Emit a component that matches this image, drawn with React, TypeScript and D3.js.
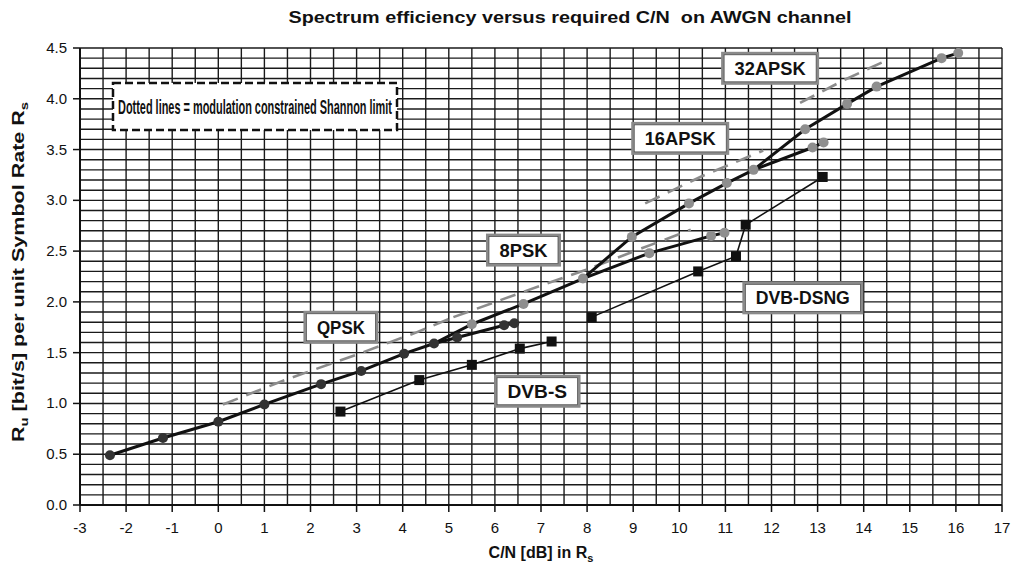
import React from "react";
import * as d3 from "d3";

// ---- data ----
const qpskX = [-2.35, -1.2, 0.0, 1.0, 2.23, 3.1, 4.03, 4.68, 5.18, 6.2, 6.42];
const qpskY = [0.49, 0.66, 0.82, 0.99, 1.19, 1.32, 1.49, 1.59, 1.65, 1.77, 1.79];

const psk8X = [5.5, 6.62, 7.91, 9.35, 10.69, 10.98];
const psk8Y = [1.78, 1.98, 2.23, 2.48, 2.65, 2.68];

const apsk16X = [8.97, 10.21, 11.03, 11.61, 12.89, 13.13];
const apsk16Y = [2.64, 2.97, 3.17, 3.3, 3.52, 3.57];

const apsk32X = [12.73, 13.64, 14.28, 15.69, 16.05];
const apsk32Y = [3.7, 3.95, 4.12, 4.4, 4.45];

const dvbsX = [2.65, 4.36, 5.5, 6.54, 7.23];
const dvbsY = [0.92, 1.23, 1.38, 1.54, 1.61];

const dsngX = [8.1, 10.41, 11.23, 11.44, 13.11];
const dsngY = [1.85, 2.3, 2.45, 2.76, 3.23];

// dashed Shannon limits
const shQpskX = [0.1, 1.5, 3.0, 4.3, 5.1];
const shQpskY = [0.99, 1.24, 1.48, 1.7, 1.85];
const sh8pskX = [5.1, 6.5, 8.0, 9.2, 10.25];
const sh8pskY = [1.85, 2.08, 2.32, 2.53, 2.71];
const sh16X = [9.26, 10.5, 11.82];
const sh16Y = [2.97, 3.24, 3.49];
const sh32X = [12.62, 13.6, 14.5];
const sh32Y = [3.96, 4.19, 4.38];

const xTicks = d3.range(-3, 18, 1);
const yTicks = d3.range(0, 4.51, 0.5);

const labels = ["QPSK", "8PSK", "16APSK", "32APSK", "DVB-S", "DVB-DSNG"];
const labelX = [2.66, 6.62, 10.02, 11.97, 6.92, 12.68];
const labelY = [1.75, 2.51, 3.61, 4.3, 1.12, 2.04];

const W = 1013;
const H = 571;

const zip = (xs: number[], ys: number[]) => xs.map((x, i) => [x, ys[i]] as [number, number]);

export default function App() {
  const x = d3.scaleLinear().domain([-3, 17]).range([80, 1002]);
  const y = d3.scaleLinear().domain([0, 4.5]).range([505, 48]);
  const line = d3
    .line<[number, number]>()
    .x((d) => x(d[0]))
    .y((d) => y(d[1]));

  const vGrid = d3.range(-3, 17.01, 0.5);
  const hGrid = d3.range(0, 4.501, 0.1);

  const qpsk = zip(qpskX, qpskY);
  const p8 = zip(psk8X, psk8Y);
  const a16 = zip(apsk16X, apsk16Y);
  const a32 = zip(apsk32X, apsk32Y);

  // lines: each modulation's curve starts at the transition point of the previous one
  const line8 = [qpsk[7], ...p8];
  const line16 = [p8[2], ...a16];
  const line32 = [a16[3], ...a32];

  const font = "'Liberation Sans',Arial,sans-serif";

  const labelBox = (t: string, i: number) => {
    const cx = x(labelX[i]);
    const cy = y(labelY[i]);
    const w = t.length * 11.5 + 26;
    const h = 30;
    const tl = t.length * 11.5 + 2;
    return (
      <g key={t}>
        <rect x={cx - w / 2} y={cy - h / 2} width={w} height={h} fill="#fff" stroke="#8a8a8a" strokeWidth={3} />
        <rect x={cx - w / 2 + 1.5} y={cy - h / 2 + 1.5} width={w - 3} height={h - 3} fill="none" stroke="#444" strokeWidth={0.7} />
        <text x={cx} y={cy + 6.5} textAnchor="middle" fontSize={18} fontWeight="bold" fontFamily={font} fill="#111" textLength={tl} lengthAdjust="spacingAndGlyphs">
          {t}
        </text>
      </g>
    );
  };

  return (
    <svg width={W} height={H} style={{ position: "absolute", left: 0, top: 0, background: "#fff" }}>
      <rect x={0} y={0} width={W} height={H} fill="#fff" />
      <text x={570} y={23} textAnchor="middle" fontSize={17} fontWeight="bold" fontFamily={font} fill="#111" textLength={563} lengthAdjust="spacingAndGlyphs">
        {"Spectrum efficiency versus required C/N\u00a0 on AWGN channel"}
      </text>
      {/* grid */}
      <g stroke="#1a1a1a" strokeWidth={1.4}>
        {vGrid.map((v) => (
          <line key={"v" + v} x1={x(v)} x2={x(v)} y1={y(0)} y2={y(4.5)} />
        ))}
        {hGrid.map((v) => (
          <line key={"h" + v} x1={x(-3)} x2={x(17)} y1={y(v)} y2={y(v)} />
        ))}
      </g>
      {/* axes ticks */}
      <g stroke="#111" strokeWidth={1.5}>
        {yTicks.map((t) => (
          <line key={"yt" + t} x1={x(-3) - 7} x2={x(-3)} y1={y(t)} y2={y(t)} />
        ))}
        {xTicks.map((t) => (
          <line key={"xt" + t} x1={x(t)} x2={x(t)} y1={y(0)} y2={y(0) + 7} />
        ))}
        <line x1={x(-3)} x2={x(-3)} y1={y(0)} y2={y(4.5)} strokeWidth={2} />
        <line x1={x(-3)} x2={x(17)} y1={y(0)} y2={y(0)} strokeWidth={2} />
      </g>
      <g fontFamily={font} fontSize={15} fill="#111">
        {yTicks.map((t) => (
          <text key={"yl" + t} x={67} y={y(t) + 5} textAnchor="end">
            {t.toFixed(1)}
          </text>
        ))}
        {xTicks.map((t) => (
          <text key={"xl" + t} x={x(t)} y={533} textAnchor="middle">
            {t}
          </text>
        ))}
      </g>
      {/* axis titles */}
      <text x={541} y={558} textAnchor="middle" fontFamily={font} fontSize={16} fontWeight="bold" fill="#111">
        C/N [dB] in R<tspan fontSize={11} dy={4}>s</tspan>
      </text>
      <text transform="translate(24,272) rotate(-90)" textAnchor="middle" fontFamily={font} fontSize={16} fontWeight="bold" fill="#111" textLength={340} lengthAdjust="spacingAndGlyphs">
        R<tspan fontSize={11} dy={4}>u</tspan>
        <tspan dy={-4}> [bit/s] per unit Symbol Rate R</tspan>
        <tspan fontSize={11} dy={4}>s</tspan>
      </text>

      {/* Shannon dashed lines */}
      <g fill="none" stroke="#8c8c8c" strokeWidth={2.6} strokeDasharray="16,9">
        <path d={line(zip(shQpskX, shQpskY)) || ""} />
        <path d={line(zip(sh8pskX, sh8pskY)) || ""} />
        <path d={line(zip(sh16X, sh16Y)) || ""} />
        <path d={line(zip(sh32X, sh32Y)) || ""} />
      </g>

      {/* DVB-S and DSNG */}
      <g fill="none" stroke="#111" strokeWidth={1.6}>
        <path d={line(zip(dvbsX, dvbsY)) || ""} />
        <path d={line(zip(dsngX, dsngY)) || ""} />
      </g>
      {/* DVB-S2 lines */}
      <g fill="none" stroke="#111" strokeWidth={3}>
        <path d={line(qpsk) || ""} />
        <path d={line(line8) || ""} />
        <path d={line(line16) || ""} />
        <path d={line(line32) || ""} />
      </g>
      {/* markers */}
      <g>
        {qpsk.map((d, i) => (
          <circle key={"q" + i} cx={x(d[0])} cy={y(d[1])} r={5} fill="#333" />
        ))}
        {[...p8, ...a16, ...a32].map((d, i) => (
          <circle key={"g" + i} cx={x(d[0])} cy={y(d[1])} r={5} fill="#8e8e8e" />
        ))}
        {[...zip(dvbsX, dvbsY), ...zip(dsngX, dsngY)].map((d, i) => (
          <rect key={"s" + i} x={x(d[0]) - 5} y={y(d[1]) - 5} width={10} height={10} fill="#111" />
        ))}
      </g>

      {/* legend note */}
      <rect x={113} y={83} width={284} height={47} fill="#fff" stroke="#111" strokeWidth={2.5} strokeDasharray="8,4" />
      <text x={255} y={114} textAnchor="middle" fontFamily={font} fontSize={21} fontWeight="bold" fill="#111" textLength={274} lengthAdjust="spacingAndGlyphs">
        Dotted lines = modulation constrained Shannon limit
      </text>

      {labels.map((t, i) => labelBox(t, i))}
    </svg>
  );
}
